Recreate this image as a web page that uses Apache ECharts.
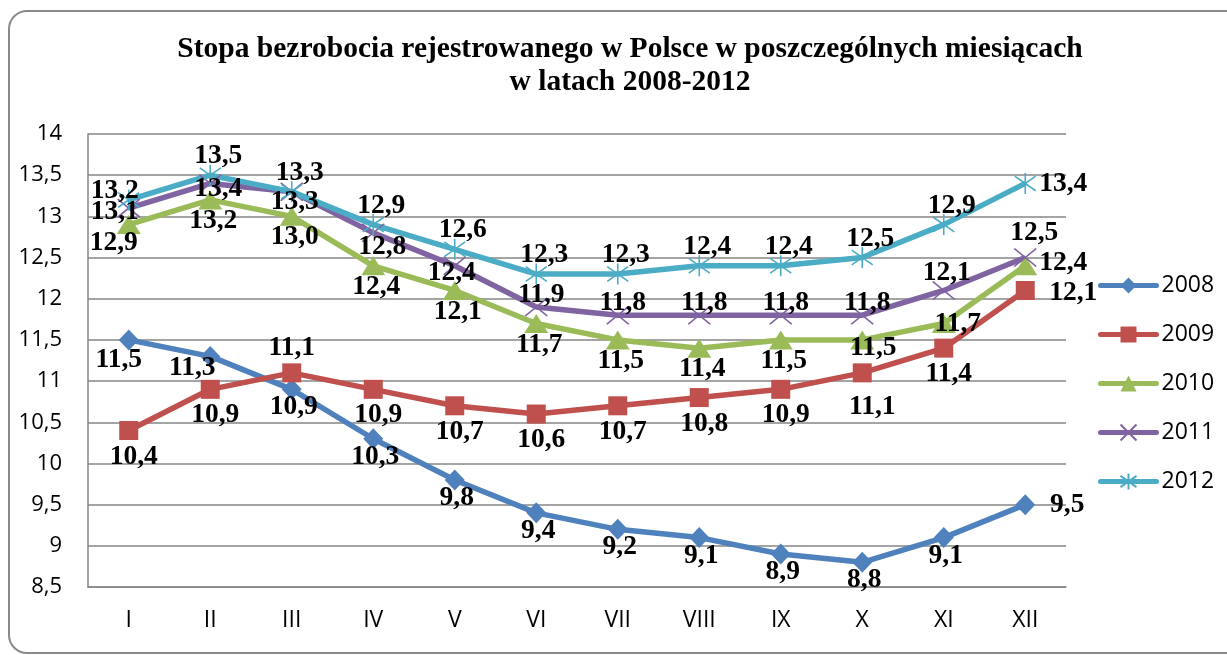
<!DOCTYPE html>
<html>
<head>
<meta charset="utf-8">
<title>Stopa bezrobocia 2008-2012</title>
<script src="https://cdn.jsdelivr.net/npm/echarts@6/dist/echarts.min.js"></script>
<style>
html, body {
  width: 100%;
  height: 100%;
  padding: 0px;
  margin: 0px;
  background: #fff;
}
#chart { width: 1227px; height: 655px; }
</style>
</head>
<body>
<div id="chart"></div>
<script>
// miesiące
var months = ['I', 'II', 'III', 'IV', 'V', 'VI', 'VII', 'VIII', 'IX', 'X', 'XI', 'XII'];

// stopa bezrobocia (%)
var rok2008 = [11.5, 11.3, 10.9, 10.3, 9.8, 9.4, 9.2, 9.1, 8.9, 8.8, 9.1, 9.5];
var rok2009 = [10.4, 10.9, 11.1, 10.9, 10.7, 10.6, 10.7, 10.8, 10.9, 11.1, 11.4, 12.1];
var rok2010 = [12.9, 13.2, 13.0, 12.4, 12.1, 11.7, 11.5, 11.4, 11.5, 11.5, 11.7, 12.4];
var rok2011 = [13.1, 13.4, 13.3, 12.8, 12.4, 11.9, 11.8, 11.8, 11.8, 11.8, 12.1, 12.5];
var rok2012 = [13.2, 13.5, 13.3, 12.9, 12.6, 12.3, 12.3, 12.4, 12.4, 12.5, 12.9, 13.4];

var years = ['2008', '2009', '2010', '2011', '2012'];

// przesunięcia etykiet względem punktu (def = domyślne)
var labelShift = {
  '2008': { def: [2, 18], 0: [-10, 20], 1: [-18, 12], 11: [42, 0] },
  '2009': { def: [5, 26], 2: [0, -25], 9: [10, 34], 11: [48, 2] },
  '2010': { def: [3, 21], 0: [-15, 18], 9: [11, 8], 10: [14, 0], 11: [38, -3] },
  '2011': { def: [5, -12], 0: [-14, 4], 1: [8, 5], 2: [3, 10], 3: [9, 14], 4: [-3, 7], 10: [3, -18], 11: [9, -25] },
  '2012': { def: [8, -19], 0: [-14, -9], 11: [38, 0] }
};

var colors = ['#4F81BD', '#C0504D', '#9BBB59', '#8064A2', '#4BACC6'];
var symbols = [
  { symbol: 'diamond', size: [20, 21] },
  { symbol: 'rect', size: 19 },
  { symbol: 'triangle', size: [24, 19] },
  { symbol: 'path://M0,0L10,10M10,0L0,10', size: [22, 18] },
  { symbol: 'path://M5,0L5,10M1,1.5L9,8.5M9,1.5L1,8.5', size: 21 }
];

function fmt(v) {
  return v.toFixed(1).replace('.', ',');
}

function makeSeries(name, values, idx) {
  var shift = labelShift[name];
  return {
    name: name,
    type: 'line',
    data: values.map(function (v, i) {
      return { value: v, label: { offset: shift[i] || shift.def } };
    }),
    symbol: symbols[idx].symbol,
    symbolSize: symbols[idx].size,
    color: colors[idx],
    lineStyle: { width: 5.5, color: colors[idx] },
    itemStyle: { color: colors[idx], borderColor: colors[idx], borderWidth: idx >= 3 ? 1.6 : 0 },
    label: {
      show: true,
      position: 'inside',
      formatter: function (p) { return fmt(p.value); },
      fontFamily: 'Liberation Serif',
      fontWeight: 'bold',
      fontSize: 27.5,
      color: '#000'
    },
    emphasis: { disabled: true }
  };
}

var chart = echarts.init(document.getElementById('chart'));

var option = {
  animation: false,
  backgroundColor: '#fff',
  graphic: [{
    type: 'rect',
    shape: { x: 9, y: 11, width: 1240, height: 642, r: 18 },
    style: { fill: 'none', stroke: '#8a8a8a', lineWidth: 2 },
    z: -1
  }],
  title: {
    text: 'Stopa bezrobocia rejestrowanego w Polsce w poszczególnych miesiącach\nw latach 2008-2012',
    left: 625,
    textAlign: 'center',
    top: 28,
    textStyle: {
      fontFamily: 'Liberation Serif',
      fontWeight: 'bold',
      fontSize: 29.5,
      lineHeight: 33,
      color: '#000'
    }
  },
  legend: {
    orient: 'vertical',
    left: 1098,
    top: 274,
    padding: 0,
    itemWidth: 56,
    itemHeight: 20,
    itemGap: 26,
    data: years,
    lineStyle: { width: 5, cap: 'round' },
    textStyle: { fontFamily: 'Open Sans', fontSize: 23, color: '#000', lineHeight: 20 }
  },
  grid: {
    left: 88,
    right: 161,
    top: 134,
    bottom: 68
  },
  xAxis: {
    type: 'category',
    data: months,
    boundaryGap: true,
    axisLine: { lineStyle: { color: '#868686', width: 1.5 } },
    axisTick: { show: false },
    axisLabel: { fontFamily: 'Open Sans', fontSize: 23, color: '#000', margin: 22 }
  },
  yAxis: {
    type: 'value',
    min: 8.5,
    max: 14,
    interval: 0.5,
    axisLine: { show: true, lineStyle: { color: '#868686', width: 1.5 } },
    axisTick: { show: false },
    splitLine: { lineStyle: { color: '#868686', width: 1.5 } },
    axisLabel: {
      fontFamily: 'Open Sans',
      fontSize: 22,
      color: '#000',
      margin: 26,
      formatter: function (v) { return String(v).replace('.', ','); }
    }
  },
  series: [
    makeSeries('2008', rok2008, 0),
    makeSeries('2009', rok2009, 1),
    makeSeries('2010', rok2010, 2),
    makeSeries('2011', rok2011, 3),
    makeSeries('2012', rok2012, 4)
  ]
};

chart.setOption(option);
</script>
</body>
</html>
